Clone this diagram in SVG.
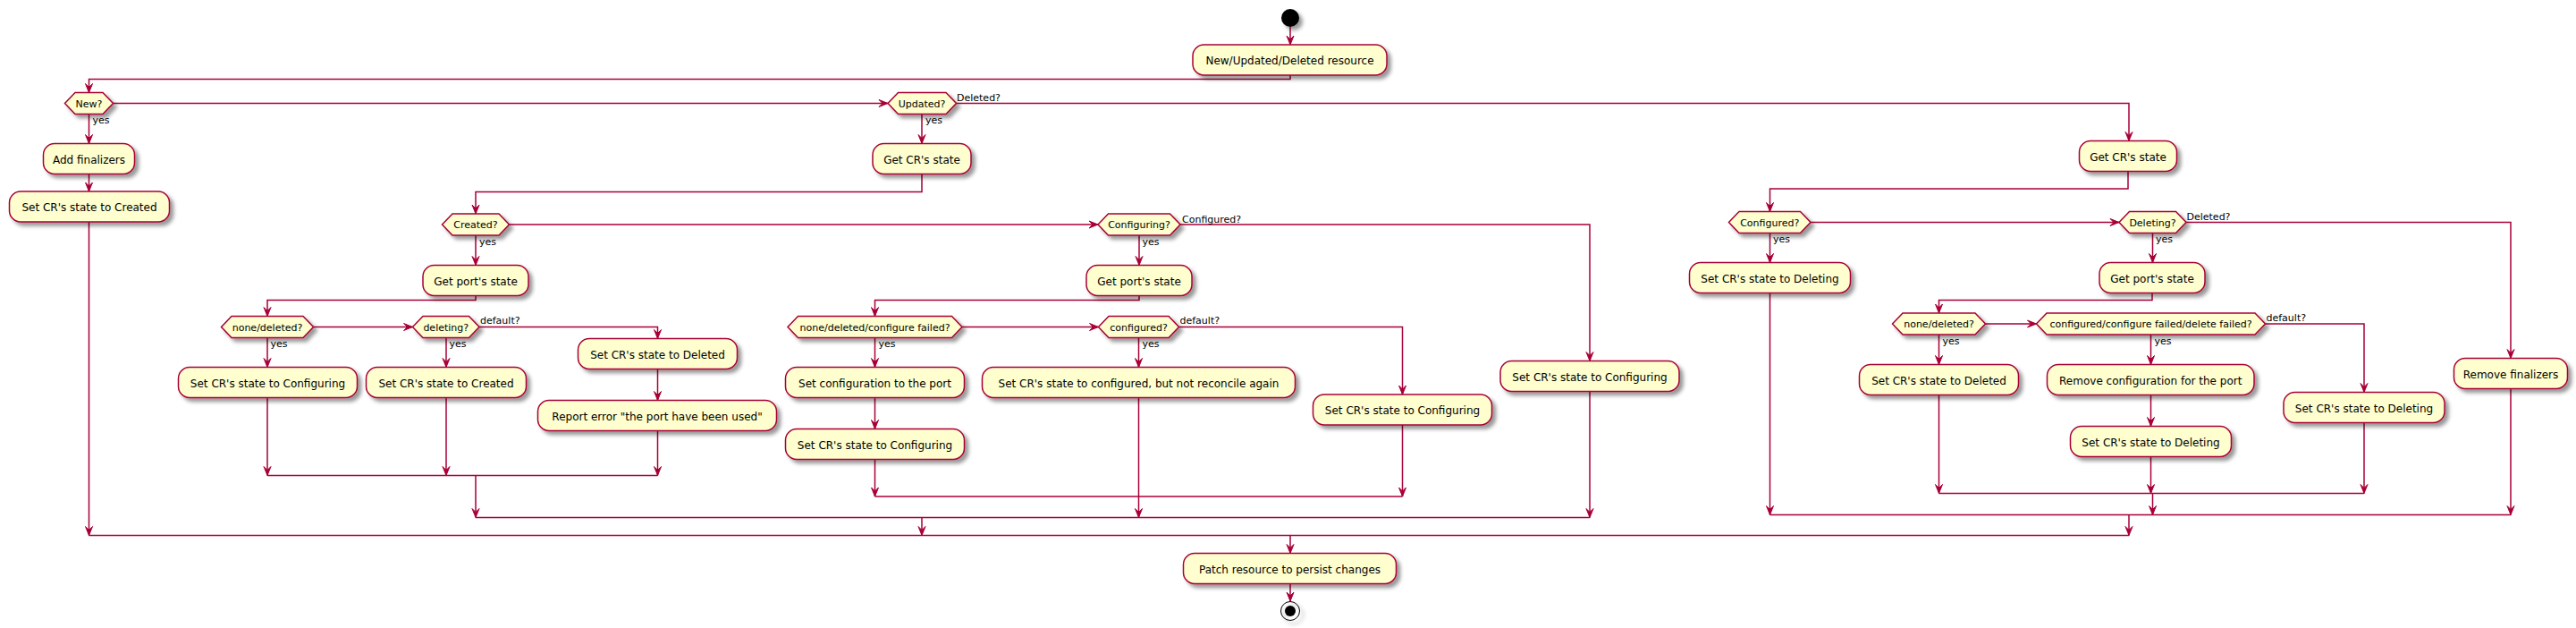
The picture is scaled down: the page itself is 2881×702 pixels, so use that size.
<svg xmlns="http://www.w3.org/2000/svg" width="2881" height="702" viewBox="0 0 2881 702">
<style>
.a{fill:#FEFECE;stroke:#A80036;stroke-width:1.5;filter:url(#sh)}
.t{font-family:"DejaVu Sans",Verdana,sans-serif;font-size:12px;fill:#000;text-anchor:middle}
.d{font-family:"DejaVu Sans",Verdana,sans-serif;font-size:11px;fill:#000;text-anchor:middle}
.l{font-family:"DejaVu Sans",Verdana,sans-serif;font-size:11px;fill:#000}
.c path{fill:none;stroke:#A80036;stroke-width:1.5}
.c path.r{marker-end:url(#ah)}
</style>
<defs>
<filter id="sh" x="-1" y="-1" width="300%" height="300%"><feGaussianBlur result="b" stdDeviation="2"/><feColorMatrix in="b" result="b2" type="matrix" values="0 0 0 0 0 0 0 0 0 0 0 0 0 0 0 0 0 0 .4 0"/><feOffset dx="4" dy="4" in="b2" result="b3"/><feBlend in="SourceGraphic" in2="b3" mode="normal"/></filter>
<marker id="ah" viewBox="-11 -5 12 10" refX="0" refY="0" markerWidth="12" markerHeight="10" markerUnits="userSpaceOnUse" orient="auto"><path d="M0,0 L-10,-4 L-6,0 L-10,4 Z" fill="#A80036" stroke="#A80036" stroke-width="1"/></marker>
</defs>
<rect width="2881" height="702" fill="#FFFFFF"/>

<g id="connectors" class="c">
<path class="r" d="M1443,30 L1443,50"/>
<path class="r" d="M1443,84 L1443,88.5 L99.5,88.5 L99.5,103.5"/>
<path class="r" d="M99.5,127.5 L99.5,160.5"/>
<path class="r" d="M99.5,194.5 L99.5,214"/>
<path class="r" d="M99.5,248 L99.5,598.5"/>
<path class="r" d="M126.5,115.5 L993,115.5"/>
<path class="r" d="M1031,127.5 L1031,160.5"/>
<path class="r" d="M1031,194.5 L1031,214.5 L532,214.5 L532,239"/>
<path class="r" d="M532,263 L532,296.5"/>
<path class="r" d="M532,330.5 L532,335.5 L299,335.5 L299,353.5"/>
<path class="r" d="M299,377.5 L299,410.5"/>
<path class="r" d="M299,444.5 L299,531.5"/>
<path class="r" d="M350.5,365.5 L461.5,365.5"/>
<path class="r" d="M499,377.5 L499,410.5"/>
<path class="r" d="M499,444.5 L499,531.5"/>
<path class="r" d="M536,365.5 L735.5,365.5 L735.5,378.5"/>
<path class="r" d="M735.5,412.5 L735.5,447.5"/>
<path class="r" d="M735.5,481.5 L735.5,531.5"/>
<path d="M299,531.5 L735.5,531.5"/>
<path class="r" d="M532,531.5 L532,578.5"/>
<path class="r" d="M569.5,251 L1228,251"/>
<path class="r" d="M1320,251 L1778,251 L1778,403.5"/>
<path class="r" d="M1778,437.5 L1778,578.5"/>
<path class="r" d="M1274,263 L1274,296.5"/>
<path class="r" d="M1274,330.5 L1274,335.5 L978.5,335.5 L978.5,353.5"/>
<path class="r" d="M978.5,377.5 L978.5,410.5"/>
<path class="r" d="M978.5,444.5 L978.5,479.5"/>
<path class="r" d="M978.5,513.5 L978.5,555"/>
<path class="r" d="M1076,365.5 L1228.5,365.5"/>
<path class="r" d="M1273.5,377.5 L1273.5,410.5"/>
<path class="r" d="M1318.5,365.5 L1568.5,365.5 L1568.5,441"/>
<path class="r" d="M1568.5,475 L1568.5,555"/>
<path class="r" d="M1273.5,444.5 L1273.5,578.5"/>
<path d="M978.5,555 L1568.5,555"/>
<path d="M532,578.5 L1778,578.5"/>
<path class="r" d="M1031,578.5 L1031,598.5"/>
<path d="M99.5,598.5 L2381,598.5"/>
<path class="r" d="M1443,598.5 L1443,618.5"/>
<path class="r" d="M1443,652.5 L1443,672"/>
<path class="r" d="M1069.5,115.5 L2381,115.5 L2381,157.5"/>
<path class="r" d="M2380,191.5 L2380,211 L1979.5,211 L1979.5,236.5"/>
<path class="r" d="M1979.5,260.5 L1979.5,293.5"/>
<path class="r" d="M1979.5,327.5 L1979.5,575.5"/>
<path class="r" d="M2025,248.5 L2370,248.5"/>
<path class="r" d="M2445,248.5 L2808,248.5 L2808,400.5"/>
<path class="r" d="M2808,434.5 L2808,575.5"/>
<path class="r" d="M2407.5,260.5 L2407.5,293.5"/>
<path class="r" d="M2407,327.5 L2407,335.5 L2168.5,335.5 L2168.5,350"/>
<path class="r" d="M2168.5,374 L2168.5,407.5"/>
<path class="r" d="M2168.5,441.5 L2168.5,551.5"/>
<path class="r" d="M2220.5,362 L2277.5,362"/>
<path class="r" d="M2405.5,374 L2405.5,407.5"/>
<path class="r" d="M2405.5,441.5 L2405.5,476.5"/>
<path class="r" d="M2405.5,510.5 L2405.5,551.5"/>
<path class="r" d="M2533.5,362 L2644,362 L2644,438.5"/>
<path class="r" d="M2644,472.5 L2644,551.5"/>
<path d="M2168.5,551.5 L2644,551.5"/>
<path class="r" d="M2407.5,551.5 L2407.5,575.5"/>
<path d="M1979.5,575.5 L2808,575.5"/>
<path class="r" d="M2381,575.5 L2381,598.5"/>
</g>

<g id="labels">
<text class="l" x="103.5" y="138">yes</text>
<text class="l" x="1035" y="138">yes</text>
<text class="l" x="1070" y="112.5">Deleted?</text>
<text class="l" x="536" y="274">yes</text>
<text class="l" x="302.5" y="388">yes</text>
<text class="l" x="502.5" y="388">yes</text>
<text class="l" x="537" y="362">default?</text>
<text class="l" x="1277.5" y="274">yes</text>
<text class="l" x="1322" y="248.5">Configured?</text>
<text class="l" x="982.5" y="388">yes</text>
<text class="l" x="1277.5" y="388">yes</text>
<text class="l" x="1319.5" y="362">default?</text>
<text class="l" x="1983" y="271">yes</text>
<text class="l" x="2445.5" y="245.5">Deleted?</text>
<text class="l" x="2411" y="271">yes</text>
<text class="l" x="2172.5" y="384.5">yes</text>
<text class="l" x="2409.5" y="384.5">yes</text>
<text class="l" x="2534.5" y="359">default?</text>
</g>

<g id="start"><circle cx="1443" cy="20" r="10" fill="#000" filter="url(#sh)"/></g>
<g id="n_new_resource"><rect class="a" x="1334" y="50" width="217" height="34" rx="12.5"/><text class="t" x="1442.5" y="72">New/Updated/Deleted resource</text></g>
<g id="d_new"><polygon class="a" points="84,103.5 115,103.5 126.5,115.5 115,127.5 84,127.5 72.5,115.5"/><text class="d" x="99.5" y="119.5">New?</text></g>
<g id="n_add_finalizers"><rect class="a" x="48.5" y="160.5" width="102" height="34" rx="12.5"/><text class="t" x="99.5" y="182.5">Add finalizers</text></g>
<g id="n_set_created"><rect class="a" x="10.5" y="214" width="179" height="34" rx="12.5"/><text class="t" x="100" y="236">Set CR's state to Created</text></g>
<g id="d_updated"><polygon class="a" points="1004.5,103.5 1058,103.5 1069.5,115.5 1058,127.5 1004.5,127.5 993,115.5"/><text class="d" x="1031" y="119.5">Updated?</text></g>
<g id="n_get_cr_state1"><rect class="a" x="976" y="160.5" width="110" height="34" rx="12.5"/><text class="t" x="1031" y="182.5">Get CR's state</text></g>
<g id="d_created"><polygon class="a" points="506,239 558,239 569.5,251 558,263 506,263 494.5,251"/><text class="d" x="532" y="255">Created?</text></g>
<g id="n_get_port1"><rect class="a" x="473" y="296.5" width="118" height="34" rx="12.5"/><text class="t" x="532" y="318.5">Get port's state</text></g>
<g id="d_none_deleted1"><polygon class="a" points="259,353.5 339,353.5 350.5,365.5 339,377.5 259,377.5 247.5,365.5"/><text class="d" x="299" y="369.5">none/deleted?</text></g>
<g id="n_set_configuring1"><rect class="a" x="199.5" y="410.5" width="200" height="34" rx="12.5"/><text class="t" x="299.5" y="432.5">Set CR's state to Configuring</text></g>
<g id="d_deleting1"><polygon class="a" points="473,353.5 524.5,353.5 536,365.5 524.5,377.5 473,377.5 461.5,365.5"/><text class="d" x="498.75" y="369.5">deleting?</text></g>
<g id="n_set_created2"><rect class="a" x="409.5" y="410.5" width="179" height="34" rx="12.5"/><text class="t" x="499" y="432.5">Set CR's state to Created</text></g>
<g id="n_set_deleted1"><rect class="a" x="646.5" y="378.5" width="178" height="34" rx="12.5"/><text class="t" x="735.5" y="400.5">Set CR's state to Deleted</text></g>
<g id="n_report_error"><rect class="a" x="601.5" y="447.5" width="267" height="34" rx="12.5"/><text class="t" x="735" y="469.5">Report error "the port have been used"</text></g>
<g id="d_configuring"><polygon class="a" points="1239.5,239 1308.5,239 1320,251 1308.5,263 1239.5,263 1228,251"/><text class="d" x="1274" y="255">Configuring?</text></g>
<g id="n_get_port2"><rect class="a" x="1215" y="296.5" width="118" height="34" rx="12.5"/><text class="t" x="1274" y="318.5">Get port's state</text></g>
<g id="d_none_deleted_cf"><polygon class="a" points="892.5,353.5 1064.5,353.5 1076,365.5 1064.5,377.5 892.5,377.5 881,365.5"/><text class="d" x="978.5" y="369.5">none/deleted/configure failed?</text></g>
<g id="n_set_configuration"><rect class="a" x="878.5" y="410.5" width="200" height="34" rx="12.5"/><text class="t" x="978.5" y="432.5">Set configuration to the port</text></g>
<g id="n_set_configuring2"><rect class="a" x="878.5" y="479.5" width="200" height="34" rx="12.5"/><text class="t" x="978.5" y="501.5">Set CR's state to Configuring</text></g>
<g id="d_configured1"><polygon class="a" points="1240,353.5 1307,353.5 1318.5,365.5 1307,377.5 1240,377.5 1228.5,365.5"/><text class="d" x="1273.5" y="369.5">configured?</text></g>
<g id="n_set_configured"><rect class="a" x="1098.5" y="410.5" width="350" height="34" rx="12.5"/><text class="t" x="1273.5" y="432.5">Set CR's state to configured, but not reconcile again</text></g>
<g id="n_set_configuring3"><rect class="a" x="1468.5" y="441" width="200" height="34" rx="12.5"/><text class="t" x="1568.5" y="463">Set CR's state to Configuring</text></g>
<g id="n_set_configuring4"><rect class="a" x="1678" y="403.5" width="200" height="34" rx="12.5"/><text class="t" x="1778" y="425.5">Set CR's state to Configuring</text></g>
<g id="n_get_cr_state2"><rect class="a" x="2325.5" y="157.5" width="109" height="34" rx="12.5"/><text class="t" x="2380" y="179.5">Get CR's state</text></g>
<g id="d_configured2"><polygon class="a" points="1945,236.5 2013.5,236.5 2025,248.5 2013.5,260.5 1945,260.5 1933.5,248.5"/><text class="d" x="1979.25" y="252.5">Configured?</text></g>
<g id="n_set_deleting1"><rect class="a" x="1889.5" y="293.5" width="180" height="34" rx="12.5"/><text class="t" x="1979.5" y="315.5">Set CR's state to Deleting</text></g>
<g id="d_deleting2"><polygon class="a" points="2381.5,236.5 2433.5,236.5 2445,248.5 2433.5,260.5 2381.5,260.5 2370,248.5"/><text class="d" x="2407.5" y="252.5">Deleting?</text></g>
<g id="n_get_port3"><rect class="a" x="2348" y="293.5" width="118" height="34" rx="12.5"/><text class="t" x="2407" y="315.5">Get port's state</text></g>
<g id="d_none_deleted2"><polygon class="a" points="2128,350 2209,350 2220.5,362 2209,374 2128,374 2116.5,362"/><text class="d" x="2168.5" y="366">none/deleted?</text></g>
<g id="n_set_deleted2"><rect class="a" x="2079.5" y="407.5" width="178" height="34" rx="12.5"/><text class="t" x="2168.5" y="429.5">Set CR's state to Deleted</text></g>
<g id="d_cfg_failed"><polygon class="a" points="2289,350 2522,350 2533.5,362 2522,374 2289,374 2277.5,362"/><text class="d" x="2405.5" y="366">configured/configure failed/delete failed?</text></g>
<g id="n_remove_configuration"><rect class="a" x="2289.5" y="407.5" width="231.5" height="34" rx="12.5"/><text class="t" x="2405.25" y="429.5">Remove configuration for the port</text></g>
<g id="n_set_deleting2"><rect class="a" x="2315.5" y="476.5" width="180" height="34" rx="12.5"/><text class="t" x="2405.5" y="498.5">Set CR's state to Deleting</text></g>
<g id="n_set_deleting3"><rect class="a" x="2554" y="438.5" width="180" height="34" rx="12.5"/><text class="t" x="2644" y="460.5">Set CR's state to Deleting</text></g>
<g id="n_remove_finalizers"><rect class="a" x="2744.5" y="400.5" width="127" height="34" rx="12.5"/><text class="t" x="2808" y="422.5">Remove finalizers</text></g>
<g id="n_patch"><rect class="a" x="1323.5" y="618.5" width="238" height="34" rx="12.5"/><text class="t" x="1442.5" y="640.5">Patch resource to persist changes</text></g>
<g id="end"><circle cx="1443" cy="683" r="10.5" fill="none" stroke="#000" stroke-width="1" filter="url(#sh)"/><circle cx="1443" cy="683" r="6" fill="#000"/></g>
</svg>
